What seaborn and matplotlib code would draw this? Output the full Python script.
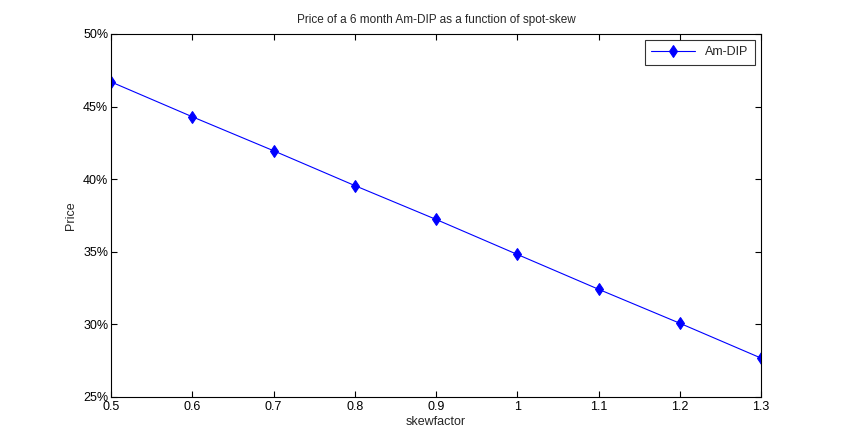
import numpy as np
import pandas as pd
import seaborn as sns
import matplotlib
matplotlib.use("Agg")
import matplotlib.pyplot as plt
from matplotlib.ticker import FuncFormatter

# Data
skewfactor = [0.5, 0.6, 0.7, 0.8, 0.9, 1.0, 1.1, 1.2, 1.3]
price = [0.4670, 0.4430, 0.4196, 0.3956, 0.3723, 0.3482, 0.3242, 0.3008, 0.2768]
x_ticks = [0.5, 0.6, 0.7, 0.8, 0.9, 1, 1.1, 1.2, 1.3]
y_ticks = [0.25, 0.30, 0.35, 0.40, 0.45, 0.50]

df = pd.DataFrame({"skewfactor": skewfactor, "Price": price})

sns.set_theme(style="ticks")
plt.rcParams["font.family"] = ["Liberation Sans", "DejaVu Sans"]
plt.rcParams["font.size"] = 8

fig = plt.figure(figsize=(8.5, 4.46), dpi=100)
ax = fig.add_axes([0.1306, 0.1099, 0.7647, 0.8139])

sns.lineplot(data=df, x="skewfactor", y="Price", ax=ax, color="blue",
             marker="d", markersize=6, markeredgecolor="blue",
             linewidth=0.8, label="Am-DIP")

ax.set_xlim(0.5, 1.3)
ax.set_ylim(0.25, 0.50)
ax.set_xticks(x_ticks)
ax.set_xticklabels(["0.5", "0.6", "0.7", "0.8", "0.9", "1", "1.1", "1.2", "1.3"])
ax.set_yticks(y_ticks)
ax.yaxis.set_major_formatter(FuncFormatter(lambda v, p: f"{v*100:.0f}%"))
ax.tick_params(direction="in", length=4, width=0.8, labelsize=9, colors="black",
               top=True, right=True)
ax.tick_params(axis="x", pad=3)
ax.tick_params(axis="y", pad=2)
for s in ax.spines.values():
    s.set_visible(True)
    s.set_linewidth(0.8)
    s.set_color("black")

ax.set_xlabel("skewfactor", fontsize=9, labelpad=2)
ax.set_ylabel("Price", fontsize=9)
ax.set_title("Price of a 6 month Am-DIP as a function of spot-skew", fontsize=8.5, pad=8)

leg = ax.legend(loc="upper right", fontsize=9, frameon=True, fancybox=False,
                edgecolor="black", borderpad=0.5, handlelength=3.5)
leg.get_frame().set_linewidth(0.8)

fig.savefig("out.png", dpi=100)
